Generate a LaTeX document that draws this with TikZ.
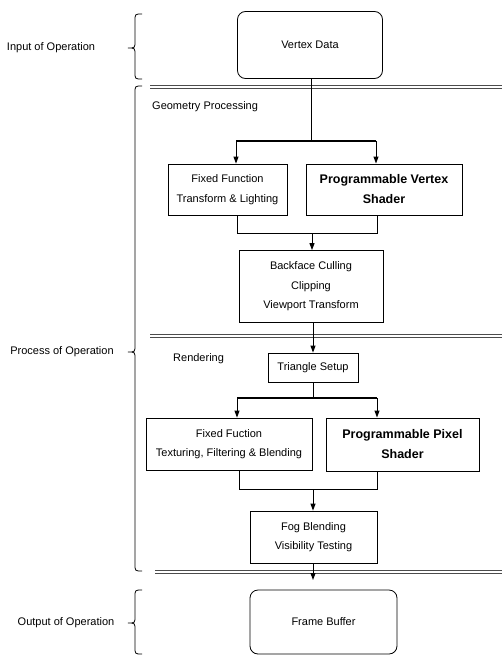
\documentclass[tikz,border=0pt]{standalone}
\usepackage{fontspec}
\setmainfont{Liberation Sans}
\usetikzlibrary{arrows.meta,calc}

\begin{document}
\begin{tikzpicture}[x=1pt,y=-1pt,
  box/.style={draw, line width=0.8pt, align=center, inner sep=0pt,
    font=\fontsize{11}{19.5}\selectfont},
  progbox/.style={box, line width=1pt, font=\fontsize{12.5}{20}\selectfont\bfseries},
  endbox/.style={box, rounded corners=8pt},
  label/.style={font=\fontsize{11}{13}\selectfont, inner sep=0pt},
  wire/.style={line width=1pt},
  bar/.style={line width=1.8pt},
  arrow/.style={wire, -{Triangle[length=7pt,width=5pt]}},
  stage/.style={draw=black!70, line width=0.8pt, double=white, double distance=2pt},
  grp/.style={line width=0.8pt}
]
\useasboundingbox (0,0) rectangle (502,656);

% pipeline boxes
\node[endbox, minimum width=145pt, minimum height=67pt] (vd) at (310,45) {Vertex Data};
\node[box, minimum width=119pt, minimum height=51pt] (ff1) at (227.5,189.5) {Fixed Function\\Transform \& Lighting};
\node[progbox, minimum width=156pt, minimum height=51pt] (pv) at (384,189.5) {Programmable Vertex\\Shader};
\node[box, minimum width=144pt, minimum height=72pt] (bc) at (311,286.5) {Backface Culling\\Clipping\\Viewport Transform};
\node[box, minimum width=90pt, minimum height=29pt] (ts) at (313,367.5) {Triangle Setup};
\node[box, minimum width=166pt, minimum height=52pt] (ff2) at (229,444) {Fixed Fuction\\Texturing, Filtering \& Blending};
\node[progbox, minimum width=153pt, minimum height=53pt] (pp) at (402.5,444.5) {Programmable Pixel\\Shader};
\node[box, minimum width=127pt, minimum height=52pt] (fog) at (313.5,537) {Fog Blending\\Visibility Testing};
\node[endbox, minimum width=147pt, minimum height=64pt] (fb) at (323.5,622) {Frame Buffer};

% stage separators
\draw[stage] (150,87) -- (502,87);
\draw[stage] (150,336) -- (502,336);
\draw[stage] (155,572) -- (502,572);

% stage titles
\node[label, anchor=west] (gp) at (152,107) {Geometry Processing};
\node[label, anchor=west] (rd) at (173,359) {Rendering};

% geometry stage wiring
\coordinate (s1) at (311,141);
\coordinate (s1l) at (236,141);
\coordinate (s1r) at (376,141);
\draw[wire] (vd.south -| s1) -- (s1);
\draw[bar] (s1l) -- (s1r);
\draw[arrow] (s1l) -- (s1l |- ff1.north);
\draw[arrow] (s1r) -- (s1r |- pv.north);
\coordinate (m1) at (312,233);
\coordinate (m1l) at (237,233);
\coordinate (m1r) at (377,233);
\draw[wire] (m1l |- ff1.south) -- (m1l) -- (m1r) -- (m1r |- pv.south);
\draw[arrow] (m1) -- (m1 |- bc.north);
\draw[arrow] (bc.south -| ts) -- (ts.north);

% rendering stage wiring
\coordinate (s2) at (313,398);
\coordinate (s2l) at (237,398);
\coordinate (s2r) at (377,398);
\draw[wire] (ts.south) -- (s2);
\draw[bar] (s2l) -- (s2r);
\draw[arrow] (s2l) -- (s2l |- ff2.north);
\draw[arrow] (s2r) -- (s2r |- pp.north);
\coordinate (m2) at (313,489);
\coordinate (m2l) at (239,489);
\coordinate (m2r) at (377,489);
\draw[wire] (m2l |- ff2.south) -- (m2l) -- (m2r) -- (m2r |- pp.south);
\draw[arrow] (m2) -- (m2 |- fog.north);
\coordinate (out) at (313,580);
\draw[arrow] (fog.south -| out) -- (out);

% phase braces (tip pointing left) and captions
\newcommand{\leftbrace}[3]{% top, tip, bottom
  \draw[grp] (142,#1) .. controls (135,#1) .. (135,#1+7) -- (135,#2-7)
    .. controls (135,#2) .. (128,#2) .. controls (135,#2) .. (135,#2+7)
    -- (135,#3-7) .. controls (135,#3) .. (142,#3);}
\leftbrace{14}{48}{79}
\leftbrace{86}{352}{571}
\leftbrace{590}{623}{654}
\node[label] (in) at (51,48) {Input of Operation};
\node[label] (pr) at (62,352) {Process of Operation};
\node[label] (op) at (66,623) {Output of Operation};
\end{tikzpicture}
\end{document}
